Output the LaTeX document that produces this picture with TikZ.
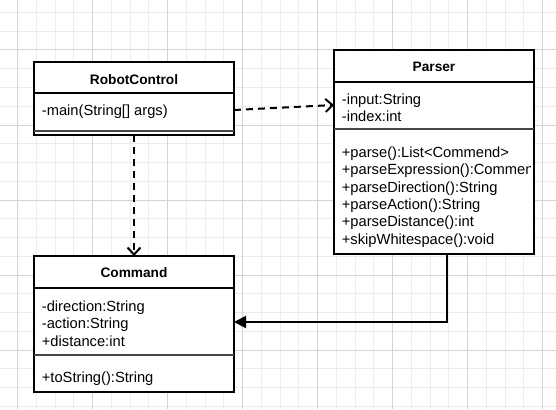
\documentclass[tikz,border=0pt]{standalone}
\usepackage{fontspec}
\setmainfont{Liberation Sans}
\usetikzlibrary{arrows.meta}
\definecolor{gminor}{RGB}{236,236,236}
\definecolor{gmajor}{RGB}{212,212,212}
\definecolor{divgray}{RGB}{70,70,70}
\begin{document}
\begin{tikzpicture}[x=1pt,y=-1pt,
  box/.style={draw, fill=white, line width=2pt, minimum width=200pt, inner sep=0pt, outer sep=0pt},
  hdiv/.style={line width=2pt},
  sdiv/.style={line width=1.3pt, draw=divgray},
  txt/.style={anchor=base west, inner sep=0pt, font=\fontsize{14.7}{17}\selectfont},
  ttl/.style={anchor=base, inner sep=0pt, font=\fontsize{13.7}{16}\selectfont\bfseries},
  dep/.style={line width=2pt, dash pattern=on 7pt off 5pt, -{Straight Barb[length=7pt,width=13pt]}},
  assoc/.style={line width=2pt, -{Triangle[length=12pt,width=12pt]}},
  minorline/.style={draw=gminor, line width=1pt},
  majorline/.style={draw=gmajor, line width=1pt}
]
\useasboundingbox[fill=white] (0,0) rectangle (556,409);
% grid
\foreach \k in {1,...,29} \draw[minorline] ({-1.25+18.75*\k},0) -- ++(0,409);
\foreach \k in {0,...,21} \draw[minorline] (0,{12.5+18.75*\k}) -- ++(556,0);
\foreach \x in {17.5,92.5,...,542.5} \draw[majorline] (\x,0) -- ++(0,409);
\foreach \y in {50,125,...,350} \draw[majorline] (0,\y) -- ++(556,0);

% RobotControl
\node[box, minimum height=73pt] (rc) at (134,98.5) {};
\draw[hdiv] (rc.west |- 0,93) -- (rc.east |- 0,93);
\draw[sdiv] (rc.west |- 0,131) -- (rc.east |- 0,131);
\node[ttl] (rct) at (134,84.3) {RobotControl};
\node[txt] (rcm) at (41.7,116) {-main(String[] args)};

% Parser
\node[box, minimum height=204pt] (parser) at (434,152) {};
\draw[hdiv] (parser.west |- 0,82) -- (parser.east |- 0,82);
\draw[sdiv] (parser.west |- 0,129) -- (parser.east |- 0,129);
\node[ttl] (pt) at (434,71.7) {Parser};
\node[txt] (pa1) at (341.7,105) {-input:String};
\node[txt] (pa2) at (341.7,121.7) {-index:int};
\begin{scope}
\clip (334,130) rectangle (530,253);
\node[txt] (pm1) at (341.7,157.3) {+parse():List<Commend>};
\node[txt] (pm2) at (341.7,174.7) {+parseExpression():Commend};
\node[txt] (pm3) at (341.7,192.1) {+parseDirection():String};
\node[txt] (pm4) at (341.7,209.5) {+parseAction():String};
\node[txt] (pm5) at (341.7,226.9) {+parseDistance():int};
\node[txt] (pm6) at (341.7,244.3) {+skipWhitespace():void};
\end{scope}

% Command
\node[box, minimum height=136pt] (cmd) at (134,324) {};
\draw[hdiv] (cmd.west |- 0,288) -- (cmd.east |- 0,288);
\draw[sdiv] (cmd.west |- 0,355) -- (cmd.east |- 0,355);
\node[ttl] (cmt) at (134,277.7) {Command};
\node[txt] (ca1) at (41.7,311.7) {-direction:String};
\node[txt] (ca2) at (41.7,328.9) {-action:String};
\node[txt] (ca3) at (41.7,346.1) {+distance:int};
\node[txt] (cm1) at (41.7,382.3) {+toString():String};

% connectors
\draw[dep] (rc.east |- 0,110) -- (parser.west |- 0,105);
\draw[dep] (rc.south) -- (cmd.north);
\draw[assoc] (parser.south -| 447,0) |- (cmd.east |- 0,322);
\end{tikzpicture}
\end{document}
